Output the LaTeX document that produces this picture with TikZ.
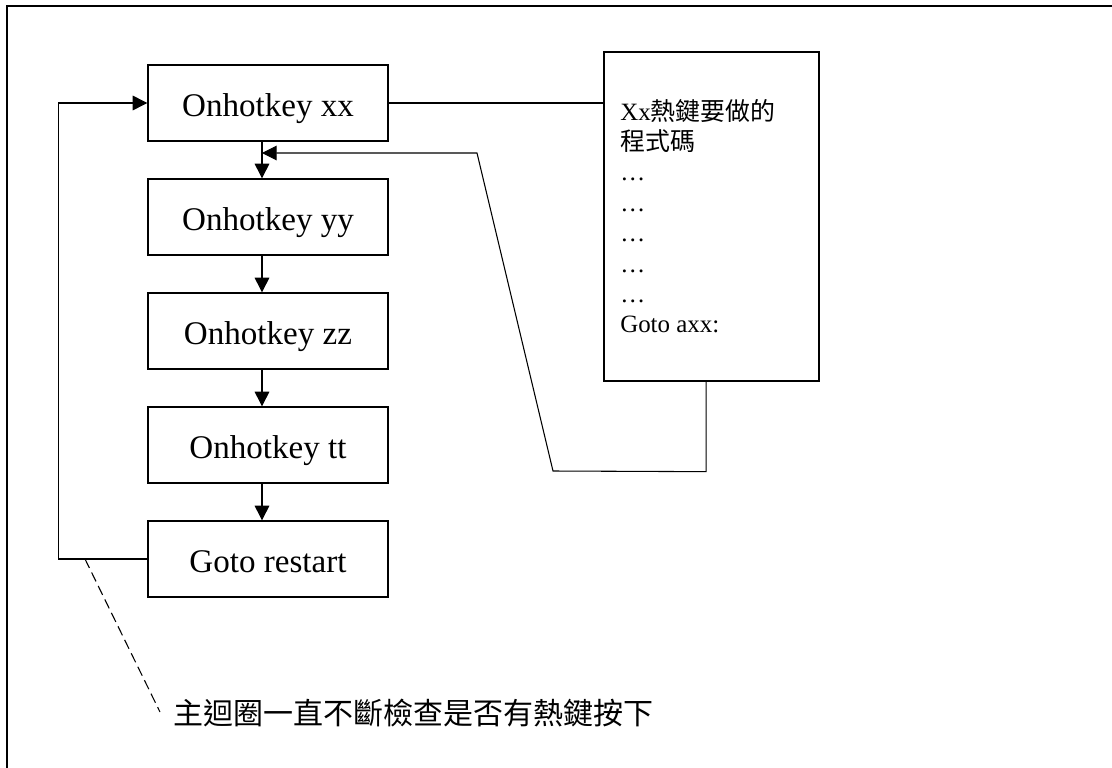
\documentclass[tikz,border=0pt]{standalone}
\usepackage{fontspec}
\setmainfont{Liberation Serif}
\newfontfamily\cjk{Noto Sans CJK TC}
\usetikzlibrary{arrows.meta}
\begin{document}
\begin{tikzpicture}[x=0.75pt,y=-0.75pt,
  stepbox/.style={draw,line width=1pt,minimum width=180pt,minimum height=57pt,inner sep=0pt,text height=20pt,text depth=0pt,font=\fontsize{24.8}{28}\selectfont},
  codebox/.style={draw,line width=1pt,minimum width=161.25pt,minimum height=246.75pt,inner sep=0pt},
  codeline/.style={anchor=base west,inner sep=0pt,font=\fontsize{18.7}{22}\selectfont},
  conn/.style={line width=0.8pt},
  arr/.style={conn,-{Triangle[length=11pt,width=11pt]}}]
\useasboundingbox (0,0) rectangle (1112,767);
\draw[line width=1.6pt] (7,790) -- (7,6) -- (1130,6);
\node[stepbox] (xx) at (268,103) {Onhotkey xx};
\node[stepbox] (yy) at (268,217) {Onhotkey yy};
\node[stepbox] (zz) at (268,331) {Onhotkey zz};
\node[stepbox] (tt) at (268,445) {Onhotkey tt};
\node[stepbox] (rs) at (268,559) {Goto restart};
\node[codebox] (code) at (711.5,216.5) {};
\node[codeline] (c1) at (620,120) {Xx{\cjk 熱鍵要做的}};
\node[codeline] (c2) at (620,150.4) {{\cjk 程式碼}};
\node[codeline] (c3) at (620,180.8) {…};
\node[codeline] (c4) at (620,211.2) {…};
\node[codeline] (c5) at (620,241.6) {…};
\node[codeline] (c6) at (620,272) {…};
\node[codeline] (c7) at (620,302.4) {…};
\node[codeline] (c8) at (620,332.8) {Goto axx:};
\node[anchor=west,inner sep=0pt,font=\cjk\fontsize{22.5}{26}\selectfont] (lbl) at (173,713) {主迴圈一直不斷檢查是否有熱鍵按下};
\coordinate (join) at (262,153);
\coordinate (dstart) at (85,559);
\coordinate (dend) at (160,712);
% main chain
\draw[arr] ([xshift=-4.5pt]xx.south) -- ([xshift=-4.5pt]yy.north);
\draw[arr] ([xshift=-4.5pt]yy.south) -- ([xshift=-4.5pt]zz.north);
\draw[arr] ([xshift=-4.5pt]zz.south) -- ([xshift=-4.5pt]tt.north);
\draw[arr] ([xshift=-4.5pt]tt.south) -- ([xshift=-4.5pt]rs.north);
% loop back
\draw[arr] (rs.west) -- ++(-89,0) |- (xx.west);
% to code
\draw[conn] (xx.east) -- (xx.east -| code.west);
% return
\draw[arr] ([xshift=-4.1pt]code.south) -- ++(0,90) -- (553,471) -- (477,153) -- (join);
% dashed note
\draw[conn,dash pattern=on 7.5pt off 3.75pt] (dstart) -- (dend);
\end{tikzpicture}
\end{document}
